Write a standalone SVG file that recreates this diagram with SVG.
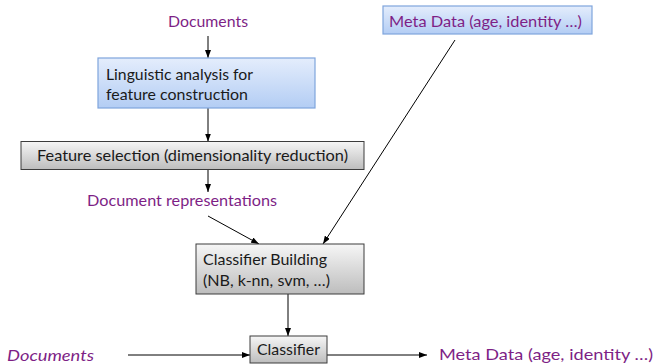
<svg xmlns="http://www.w3.org/2000/svg" width="655" height="364" viewBox="0 0 655 364">
  <defs>
    <linearGradient id="blueFill" x1="0" y1="0" x2="0" y2="1">
      <stop offset="0" stop-color="#e4edfc"/>
      <stop offset="1" stop-color="#b3cdf4"/>
    </linearGradient>
    <linearGradient id="grayFill" x1="0" y1="0" x2="0" y2="1">
      <stop offset="0" stop-color="#f6f6f6"/>
      <stop offset="1" stop-color="#bdbdbd"/>
    </linearGradient>
    <marker id="arrow" viewBox="0 0 8 6" refX="8" refY="3" markerWidth="8" markerHeight="6" orient="auto" markerUnits="userSpaceOnUse">
      <path d="M0,0 L8,3 L0,6 z" fill="#000"/>
    </marker>
  </defs>
  <style>
    text { font-family: Lato, "Open Sans", "Liberation Sans", sans-serif; font-size: 16px; }
    .dark { fill: #1a1a1a; }
    .purple { fill: #7e1f86; }
    .blue { fill: url(#blueFill); stroke: #7fa5dc; stroke-width: 1.2; }
    .gray { fill: url(#grayFill); stroke: #3c3c3c; stroke-width: 1; }
    .edge { stroke: #000; stroke-width: 1; fill: none; marker-end: url(#arrow); }
  </style>

  <rect width="655" height="364" fill="#fff"/>

  <!-- connectors -->
  <g id="connectors">
    <line class="edge" x1="208" y1="36" x2="208" y2="58"/>
    <line class="edge" x1="208" y1="108" x2="208" y2="141.5"/>
    <line class="edge" x1="208" y1="169.5" x2="208" y2="192"/>
    <line class="edge" x1="208" y1="216" x2="259" y2="244"/>
    <line class="edge" x1="455" y1="40" x2="323" y2="244"/>
    <line class="edge" x1="288" y1="294" x2="288" y2="336"/>
    <line class="edge" x1="128" y1="355" x2="250" y2="355"/>
    <line class="edge" x1="327" y1="355" x2="427" y2="355"/>
  </g>

  <!-- input documents -->
  <g id="documents-in">
    <text class="purple" x="168" y="26.5" textLength="80" lengthAdjust="spacingAndGlyphs">Documents</text>
  </g>

  <!-- metadata source -->
  <g id="metadata">
    <rect class="blue" x="383" y="6" width="209" height="28"/>
    <text class="purple" x="389" y="27" textLength="193" lengthAdjust="spacingAndGlyphs">Meta Data (age, identity …)</text>
  </g>

  <!-- linguistic analysis -->
  <g id="linguistic">
    <rect class="blue" x="98" y="58" width="217" height="50"/>
    <text class="dark" x="106" y="79.5" textLength="147" lengthAdjust="spacingAndGlyphs">Linguistic analysis for</text>
    <text class="dark" x="106" y="99.5" textLength="142" lengthAdjust="spacingAndGlyphs">feature construction</text>
  </g>

  <!-- feature selection -->
  <g id="feature-selection">
    <rect class="gray" x="21" y="141.5" width="343" height="28"/>
    <text class="dark" x="37" y="160.5" textLength="311" lengthAdjust="spacingAndGlyphs">Feature selection (dimensionality reduction)</text>
  </g>

  <!-- document representations -->
  <g id="doc-representations">
    <text class="purple" x="87" y="205.5" textLength="190" lengthAdjust="spacingAndGlyphs">Document representations</text>
  </g>

  <!-- classifier building -->
  <g id="classifier-building">
    <rect class="gray" x="196" y="244" width="168" height="50"/>
    <text class="dark" x="203" y="265" textLength="124" lengthAdjust="spacingAndGlyphs">Classifier Building</text>
    <text class="dark" x="203" y="285.5" textLength="127" lengthAdjust="spacingAndGlyphs">(NB, k-nn, svm, …)</text>
  </g>

  <!-- classifier -->
  <g id="classifier">
    <rect class="gray" x="250" y="336" width="77" height="27"/>
    <text class="dark" x="257" y="355" textLength="63" lengthAdjust="spacingAndGlyphs">Classifier</text>
  </g>

  <!-- new documents -->
  <g id="documents-new">
    <text class="purple" x="7" y="361" font-size="18" font-style="italic" textLength="87" lengthAdjust="spacingAndGlyphs">Documents</text>
  </g>

  <!-- predicted metadata -->
  <g id="metadata-out">
    <text class="purple" x="439" y="360" font-size="18" textLength="214" lengthAdjust="spacingAndGlyphs">Meta Data (age, identity …)</text>
  </g>
</svg>
